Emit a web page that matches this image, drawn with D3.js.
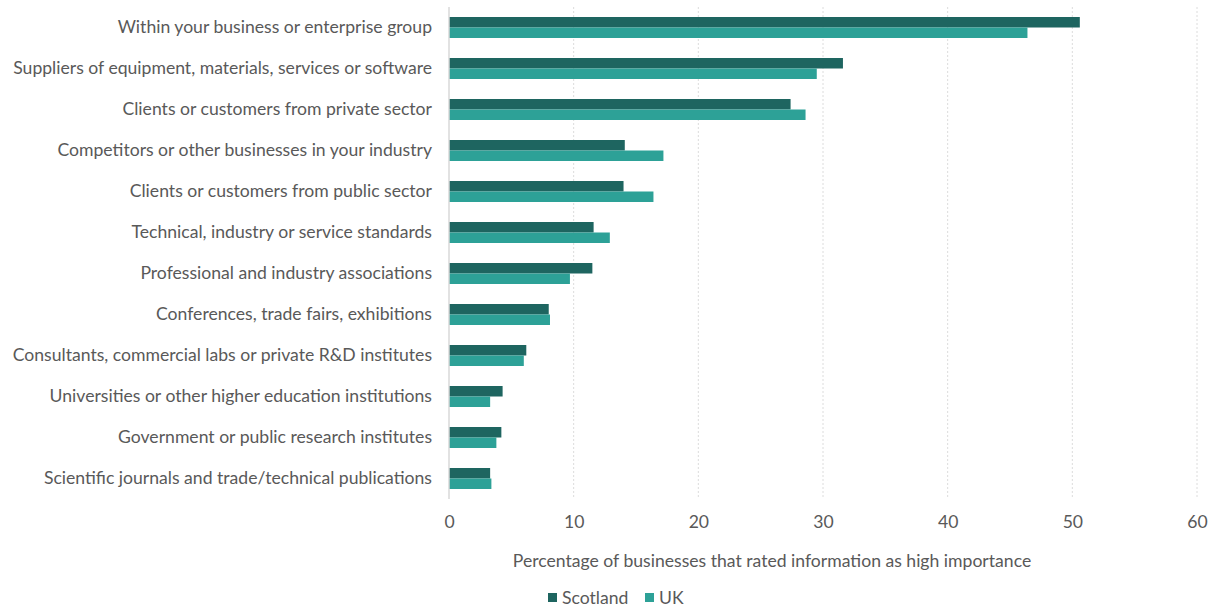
<!DOCTYPE html>
<html>
<head>
<meta charset="utf-8">
<script src="https://cdn.jsdelivr.net/npm/d3@7"></script>
<style>
  html, body { margin: 0; padding: 0; background: #fff; }
  svg { display: block; font-family: Lato, "Open Sans", sans-serif; }
</style>
</head>
<body>
<svg id="chart" width="1215" height="608"></svg>
<script>
// Sources of information for innovation, ranked by Scotland share
const categories = [
  "Within your business or enterprise group",
  "Suppliers of equipment, materials, services or software",
  "Clients or customers from private sector",
  "Competitors or other businesses in your industry",
  "Clients or customers from public sector",
  "Technical, industry or service standards",
  "Professional and industry associations",
  "Conferences, trade fairs, exhibitions",
  "Consultants, commercial labs or private R&D institutes",
  "Universities or other higher education institutions",
  "Government or public research institutes",
  "Scientific journals and trade/technical publications"
];
const scotland = [50.6, 31.6, 27.4, 14.1, 14.0, 11.6, 11.5, 8.0, 6.2, 4.3, 4.2, 3.3];
const uk       = [46.4, 29.5, 28.6, 17.2, 16.4, 12.9, 9.7, 8.1, 6.0, 3.3, 3.8, 3.4];
const seriesNames = ["Scotland", "UK"];
const xTicks = [0, 10, 20, 30, 40, 50, 60];
const xTitle = "Percentage of businesses that rated information as high importance";

const colors = { Scotland: "#1e6560", UK: "#2da197" };
const textColor = "#595959";
const fontSize = 17.6;

const svg = d3.select("#chart");
const plot = { left: 449, right: 1197, top: 7, bottom: 499 };

const x = d3.scaleLinear().domain([0, 60]).range([plot.left, plot.right]);
const y = d3.scaleBand().domain(categories).range([plot.top, plot.bottom]).paddingInner(0.488).paddingOuter(0.244);
const sub = d3.scaleBand().domain(seriesNames).range([0, y.bandwidth()]);

// dotted vertical gridlines
svg.append("g")
  .selectAll("line")
  .data(xTicks.filter(d => d > 0))
  .join("line")
  .attr("x1", d => x(d)).attr("x2", d => x(d))
  .attr("y1", plot.top).attr("y2", plot.bottom)
  .attr("stroke", "#dcdcdc")
  .attr("stroke-width", 1)
  .attr("stroke-dasharray", "2,2");

// bars
const rows = categories.map((c, i) => ({ c, Scotland: scotland[i], UK: uk[i] }));
const groups = svg.append("g").selectAll("g")
  .data(rows)
  .join("g")
  .attr("transform", d => `translate(0,${y(d.c)})`);

groups.selectAll("rect")
  .data(d => seriesNames.map(s => ({ s, v: d[s] })))
  .join("rect")
  .attr("x", x(0))
  .attr("y", d => sub(d.s))
  .attr("width", d => x(d.v) - x(0))
  .attr("height", sub.bandwidth())
  .attr("fill", d => colors[d.s]);

// category axis line
svg.append("line")
  .attr("x1", plot.left).attr("x2", plot.left)
  .attr("y1", plot.top).attr("y2", plot.bottom)
  .attr("stroke", "#d9d9d9").attr("stroke-width", 1.5);

// category labels
const yAxis = svg.append("g")
  .attr("transform", `translate(${plot.left},0)`)
  .call(d3.axisLeft(y).tickSize(0).tickPadding(17));
yAxis.select(".domain").remove();
yAxis.selectAll("text")
  .attr("font-size", fontSize)
  .attr("fill", textColor)
  .style("font-family", "Lato, 'Open Sans', sans-serif");

// value axis
const xAxis = svg.append("g")
  .attr("transform", `translate(0,${plot.bottom})`)
  .call(d3.axisBottom(x).tickValues(xTicks).tickSize(0).tickPadding(17).tickFormat(d3.format("d")));
xAxis.select(".domain").remove();
xAxis.selectAll("text")
  .attr("font-size", fontSize)
  .attr("fill", textColor)
  .style("font-family", "Lato, 'Open Sans', sans-serif");

// axis title
svg.append("text")
  .attr("x", 772)
  .attr("y", 567)
  .attr("text-anchor", "middle")
  .attr("font-size", fontSize)
  .attr("fill", textColor)
  .text(xTitle);

// legend
const legend = svg.append("g").attr("transform", "translate(548,598)");
const legendX = [0, 97];
seriesNames.forEach((s, i) => {
  const g = legend.append("g").attr("transform", `translate(${legendX[i]},0)`);
  g.append("rect").attr("x", 0).attr("y", -5).attr("width", 9).attr("height", 9).attr("fill", colors[s]);
  g.append("text").attr("x", 14).attr("y", 6)
    .attr("font-size", fontSize).attr("fill", textColor).text(s);
});
</script>
</body>
</html>
